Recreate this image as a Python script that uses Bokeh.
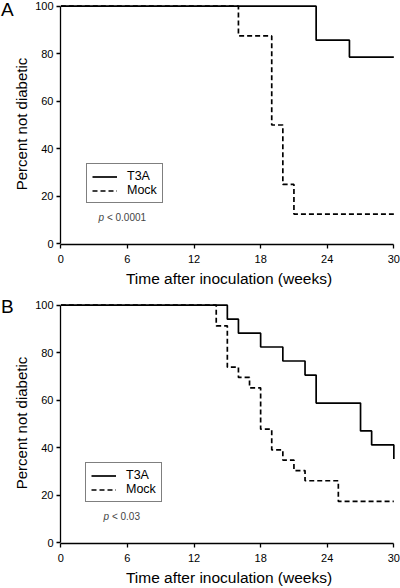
from bokeh.plotting import figure
from bokeh.models import Range1d, Legend, LegendItem, Label, Div
from bokeh.layouts import column, row
from bokeh.embed import file_html
from bokeh.resources import INLINE

# ---------------- data ----------------
x_ticks = [0, 6, 12, 18, 24, 30]
y_ticks = [0, 20, 40, 60, 80, 100]

# Panel A (Kaplan-Meier, step "after")
a_t3a_weeks = [0, 23, 26, 30]
a_t3a_pct = [100, 85.7, 78.6, 78.6]
a_mock_weeks = [0, 16, 19, 20, 21, 30]
a_mock_pct = [100, 87.5, 50, 25, 12.5, 12.5]
a_pvalue = "< 0.0001"

# Panel B
b_t3a_weeks = [0, 15, 16, 18, 20, 22, 23, 27, 28, 30]
b_t3a_pct = [100, 94.1, 88.2, 82.4, 76.5, 70.6, 58.8, 47.1, 41.2, 35.3]
b_mock_weeks = [0, 14, 15, 16, 17, 18, 19, 20, 21, 22, 25, 30]
b_mock_pct = [100, 91.3, 73.9, 69.6, 65.2, 47.8, 39.1, 34.8, 30.4, 26.1, 17.4, 17.4]
b_pvalue = "< 0.03"

series_names = ["T3A", "Mock"]
x_title = "Time after inoculation (weeks)"
y_title = "Percent not diabetic"

FONT = "Liberation Sans"
DIV_W = 10


def make_panel(t3a_x, t3a_y, mock_x, mock_y, pval, height, top, bottom,
               mock_on_top, legend_loc, p_xy):
    p = figure(width=400 - DIV_W, height=height, output_backend="svg", toolbar_location=None,
               x_range=Range1d(-0.03, 30.33), y_range=Range1d(-0.3, 101.13),
               min_border_left=59 - DIV_W, min_border_right=3,
               min_border_top=top, min_border_bottom=bottom)
    p.outline_line_color = None
    p.xgrid.visible = False
    p.ygrid.visible = False
    p.background_fill_color = None
    p.border_fill_color = None

    for ax in (p.xaxis[0], p.yaxis[0]):
        ax.axis_line_width = 1.3
        ax.major_tick_line_width = 1.3
        ax.major_tick_out = 4
        ax.major_tick_in = 0
        ax.minor_tick_line_color = None
        ax.major_label_text_font = FONT
        ax.major_label_text_font_size = "11px"
        ax.major_label_text_color = "black"
        ax.axis_label_text_font = FONT
        ax.axis_label_text_font_style = "normal"
        ax.axis_label_text_color = "black"
    p.xaxis.axis_label_text_font_size = "15.5px"
    p.yaxis.axis_label_text_font_size = "15px"
    p.xaxis.ticker = x_ticks
    p.yaxis.ticker = y_ticks
    p.xaxis.bounds = (0, 30)
    p.yaxis.bounds = (0, 100)
    p.xaxis.axis_label = x_title
    p.yaxis.axis_label = y_title
    p.xaxis.major_label_standoff = 6
    p.yaxis.major_label_standoff = 3
    p.xaxis.axis_label_standoff = 4
    p.yaxis.axis_label_standoff = 2

    def draw_t3a():
        return p.step(t3a_x, t3a_y, mode="after", line_color="black", line_width=1.7)

    def draw_mock():
        return p.step(mock_x, mock_y, mode="after", line_color="black", line_width=1.7,
                      line_dash="5 3")

    if mock_on_top:
        r_t3a = draw_t3a()
        r_mock = draw_mock()
    else:
        r_mock = draw_mock()
        r_t3a = draw_t3a()

    legend = Legend(items=[LegendItem(label=series_names[0], renderers=[r_t3a]),
                           LegendItem(label=series_names[1], renderers=[r_mock])],
                    location=legend_loc)
    legend.border_line_color = "black"
    legend.border_line_width = 1.3
    legend.background_fill_color = "white"
    legend.background_fill_alpha = 1
    legend.padding = 5
    legend.margin = 0
    legend.spacing = 0
    legend.glyph_width = 25
    legend.glyph_height = 13
    legend.label_height = 13
    legend.label_standoff = 10
    legend.label_text_font = FONT
    legend.label_text_font_size = "12.5px"
    legend.label_text_color = "black"
    p.add_layout(legend, "center")

    px, py = p_xy
    p.add_layout(Label(x=px, y=py, text="p", text_font=FONT, text_font_size="10px",
                       text_font_style="italic", text_baseline="alphabetic"))
    p.add_layout(Label(x=px + 0.76, y=py, text=pval, text_font=FONT, text_font_size="10px",
                       text_baseline="alphabetic"))
    return p


def letter_div(letter, height, pad_top):
    html = ('<div style="font-family:\'Liberation Sans\',Arial,sans-serif;font-size:19px;'
            'line-height:19px;color:black;padding-left:1px;padding-top:%dpx;'
            'white-space:nowrap;">%s</div>' % (pad_top, letter))
    return Div(text=html, width=DIV_W, height=height, margin=0,
               styles={"overflow": "visible"})


pA = make_panel(a_t3a_weeks, a_t3a_pct, a_mock_weeks, a_mock_pct, a_pvalue,
                290, 3, 46, False, (26, 41), (3.39, 10.9))
pB = make_panel(b_t3a_weeks, b_t3a_pct, b_mock_weeks, b_mock_pct, b_pvalue,
                298, 12, 44, True, (25, 41), (3.84, 11.0))

layout = column(row(letter_div("A", 290, 0), pA, spacing=0),
                row(letter_div("B", 298, 7), pB, spacing=0), spacing=0)

open("out.html", "w").write(file_html(layout, INLINE))
